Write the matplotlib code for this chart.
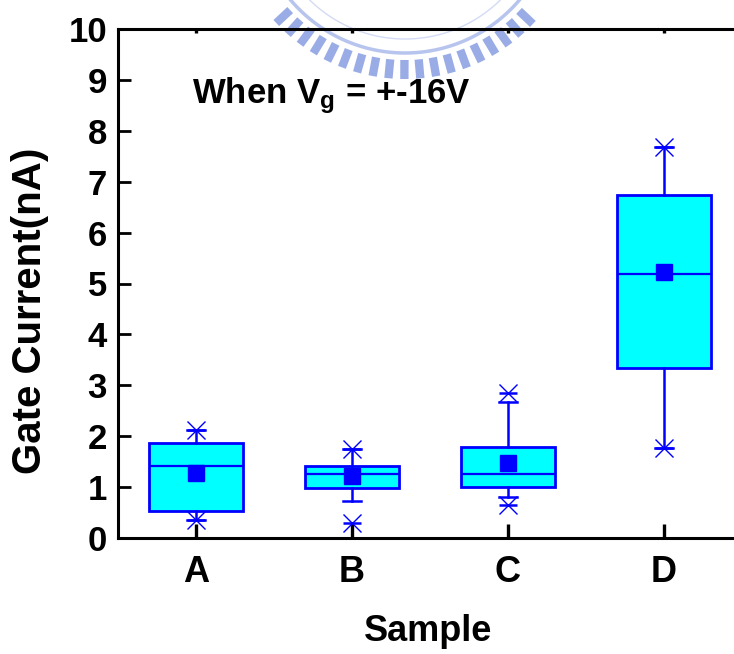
import numpy as np
import matplotlib
matplotlib.use("Agg")
import matplotlib.pyplot as plt
from matplotlib.lines import Line2D

# ---- data -------------------------------------------------------------
samples = ["A", "B", "C", "D"]
q1 = [0.53, 0.98, 1.00, 3.34]
median = [1.41, 1.26, 1.26, 5.19]
q3 = [1.87, 1.41, 1.79, 6.74]
mean = [1.28, 1.22, 1.47, 5.23]
whisker_lo = [0.35, 0.73, 0.81, 1.77]
whisker_hi = [2.12, 1.75, 2.67, 7.68]
minimum = [0.35, 0.29, 0.65, 1.77]
maximum = [2.12, 1.75, 2.85, 7.68]
y_ticks = list(range(0, 11))

# ---- styling ----------------------------------------------------------
plt.rcParams["font.family"] = ["Liberation Sans", "DejaVu Sans"]
plt.rcParams["font.weight"] = "bold"
plt.rcParams["mathtext.fontset"] = "custom"
plt.rcParams["mathtext.rm"] = "Liberation Sans:bold"
plt.rcParams["mathtext.bf"] = "Liberation Sans:bold"
plt.rcParams["mathtext.it"] = "Liberation Sans:bold"
plt.rcParams["mathtext.default"] = "rm"

W, H = 734, 654
fig = plt.figure(figsize=(W / 100, H / 100), dpi=100)
fig.patch.set_facecolor("white")

def fpx(x, y):
    """pixel position (from top-left) -> figure fraction"""
    return x / W, 1 - y / H

# faint emblem behind the plot
wm_color = "#9aace6"
cx, cy = 405, -97
angles = np.deg2rad(np.arange(-47, 47.1, 5.2))
for a in angles:
    r0, r1 = 157, 176
    x0, y0 = cx + r0 * np.sin(a), cy + r0 * np.cos(a)
    x1, y1 = cx + r1 * np.sin(a), cy + r1 * np.cos(a)
    (fx0, fy0), (fx1, fy1) = fpx(x0, y0), fpx(x1, y1)
    fig.add_artist(Line2D([fx0, fx1], [fy0, fy1], color=wm_color, lw=6,
                          solid_capstyle="butt", transform=fig.transFigure, zorder=0))
for rr, lw, col in [(150, 2.5, "#b7c4ee"), (136, 1.0, "#d3dbf5")]:
    t = np.deg2rad(np.linspace(-52, 52, 120))
    pts = [fpx(cx + rr * np.sin(v), cy + rr * np.cos(v)) for v in t]
    fig.add_artist(Line2D([p[0] for p in pts], [p[1] for p in pts], color=col,
                          lw=lw, transform=fig.transFigure, zorder=0))

ax = fig.add_axes([118 / W, 116 / H, 624 / W, 509 / H])
ax.patch.set_alpha(0)

positions = np.arange(1, len(samples) + 1)
stats = []
for i, name in enumerate(samples):
    stats.append(dict(label=name, q1=q1[i], med=median[i], q3=q3[i], mean=mean[i],
                      whislo=whisker_lo[i], whishi=whisker_hi[i], fliers=[]))

blue = "#0000ff"
ax.bxp(stats, positions=positions, widths=0.6, capwidths=0.115,
       showmeans=True, patch_artist=True, manage_ticks=False,
       boxprops=dict(facecolor="#00ffff", edgecolor=blue, linewidth=2.0),
       medianprops=dict(color=blue, linewidth=1.6),
       whiskerprops=dict(color=blue, linewidth=1.8),
       capprops=dict(color=blue, linewidth=1.8),
       meanprops=dict(marker="s", markerfacecolor=blue, markeredgecolor=blue,
                      markersize=11),
       zorder=3)

# min / max markers (cross with a horizontal bar)
for vals in (minimum, maximum):
    ax.plot(positions, vals, linestyle="none", marker="x", markersize=13,
            markeredgewidth=1.0, color=blue, zorder=4, clip_on=False)
    ax.plot(positions, vals, linestyle="none", marker="_", markersize=13,
            markeredgewidth=1.8, color=blue, zorder=4, clip_on=False)

ax.set_xlim(0.5, 4.5)
ax.set_ylim(0, 10)
ax.set_xticks(positions)
ax.set_xticklabels(samples)
ax.set_yticks(y_ticks)
ax.set_yticklabels([str(v) for v in y_ticks])

for s in ax.spines.values():
    s.set_linewidth(2.2)
ax.tick_params(axis="y", direction="in", length=9, width=2.0, pad=8,
               labelsize=25)
ax.tick_params(axis="x", which="major", direction="in", length=10, width=2.4,
               pad=12, labelsize=26, top=True)
for t in ax.xaxis.get_major_ticks():
    t.tick2line.set_markersize(3)

ax.text(0.1186, 0.855, r"When V$_{g}$ = +-16V", transform=ax.transAxes,
        fontsize=25, fontweight="bold", va="baseline", ha="left")

fig.text(*fpx(428, 641), "Sample", fontsize=26, fontweight="bold",
         ha="center", va="baseline")
fig.text(*fpx(30, 311), "Gate Current(nA)", fontsize=29, fontweight="bold",
         ha="center", va="center", rotation=90)

fig.savefig("out.png", dpi=100)
